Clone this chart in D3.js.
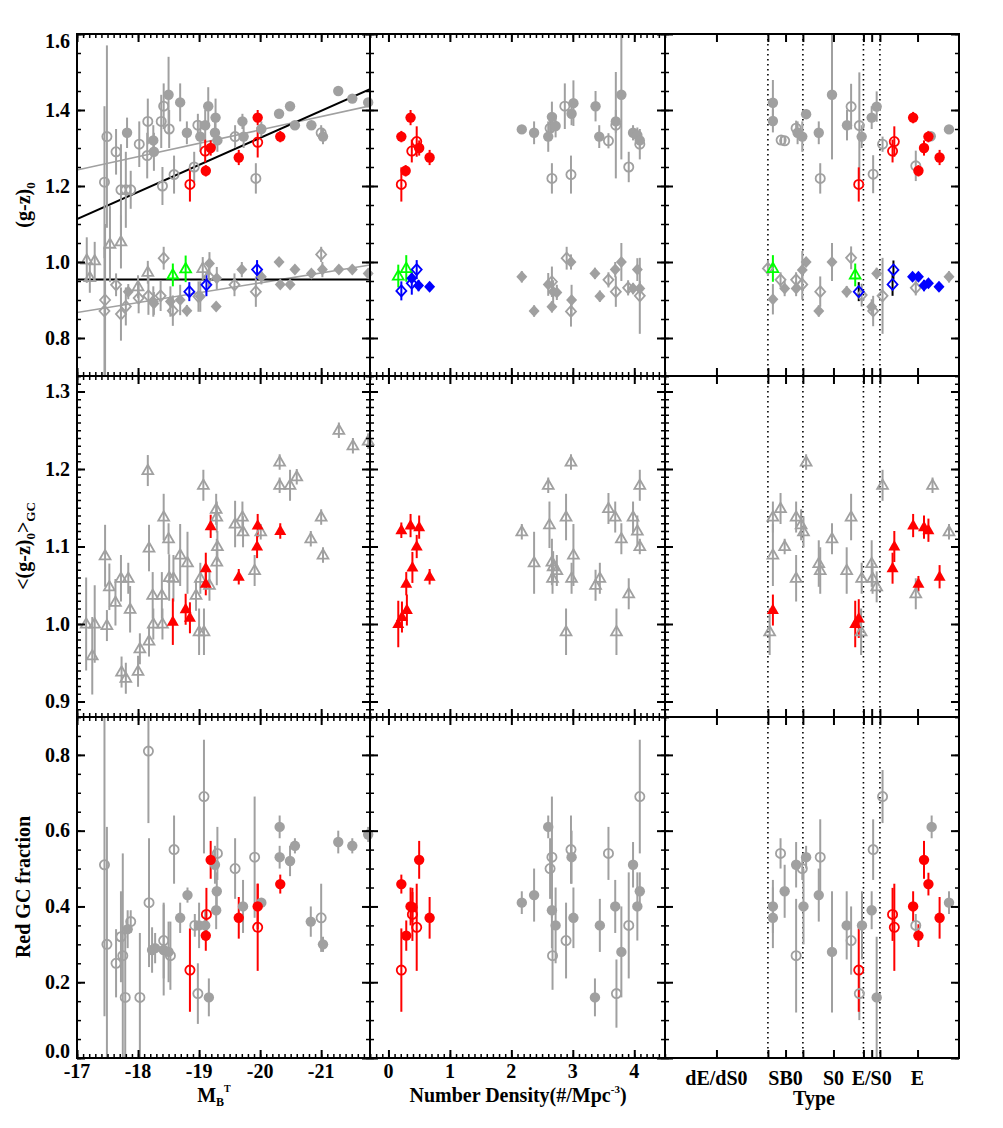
<!DOCTYPE html>
<html>
<head>
<meta charset="utf-8">
<script src="https://cdn.jsdelivr.net/npm/d3@7"></script>
<style>
body { margin: 0; background: #fff; }
text { font-family: "Liberation Serif", "Times New Roman", serif; font-weight: bold; }
</style>
</head>
<body>
<div id="chart"></div>
<script>
var GRAY = "#a0a0a0";

// ---- axes ----
var magDomain = [-17, -21.8];
var magMajor = [-17, -18, -19, -20, -21];
var denDomain = [-0.3, 4.5];
var denMajor = [0, 1, 2, 3, 4];
var typeDomain = [0, 10];
var typeTicks = [1.75, 3.5, 4.1, 4.69, 5.73, 6.75, 7.03, 7.31, 8.59];
var typeNames = ["dE/dS0", "SB0", "S0", "E/S0", "E"];
var typeNamePos = [1.75, 4.1, 5.73, 7.03, 8.59];
var typeBounds = [3.5, 4.69, 6.75, 7.31];

var peakDomain = [0.7, 1.6];
var peakMajor = [0.8, 1.0, 1.2, 1.4, 1.6];
var meanDomain = [0.88, 1.32];
var meanMajor = [0.9, 1.0, 1.1, 1.2, 1.3];
var fracDomain = [0, 0.9];
var fracMajor = [0, 0.2, 0.4, 0.6, 0.8];

// ---- top row: peak colours (x, g-z, err) ----
var rpMagGray = [[-17.82,1.34,0.04],[-18.25,1.32,0.04],[-18.26,1.29,0.05],[-18.5,1.44,0.1],[-18.69,1.42,0.05],[-18.8,1.34,0.03],[-19.02,1.33,0.04],[-19.1,1.36,0.04],[-19.15,1.41,0.05],[-19.27,1.38,0.05],[-19.26,1.34,0.04],[-19.3,1.32,0.03],[-19.71,1.37,0.02],[-19.73,1.33,0.03],[-20.02,1.35,0.02],[-20.31,1.39,0.01],[-20.49,1.41,0.01],[-20.57,1.36,0.01],[-20.84,1.36,0.01],[-21.03,1.33,0.02],[-21.28,1.45,0.01],[-21.51,1.43,0.01],[-21.77,1.42,0.01]];
var rpMagGrayOpen = [[-17.49,1.33,0.24],[-17.45,1.21,0.2],[-17.64,1.29,0.06],[-17.72,1.19,0.12],[-17.8,1.19,0.1],[-17.88,1.19,0.05],[-18.02,1.31,0.06],[-18.16,1.37,0.06],[-18.15,1.28,0.06],[-18.4,1.2,0.05],[-18.42,1.41,0.06],[-18.38,1.37,0.07],[-18.51,1.35,0.05],[-18.59,1.23,0.05],[-18.92,1.25,0.04],[-18.98,1.36,0.03],[-19.59,1.33,0.03],[-19.93,1.22,0.04],[-21.0,1.34,0.02]];
var rpMagRed = [[-19.11,1.24,0.015],[-19.19,1.30,0.02],[-19.65,1.275,0.02],[-19.96,1.38,0.02],[-20.33,1.33,0.015]];
var rpMagRedOpen = [[-18.85,1.204,0.045],[-19.1,1.292,0.03],[-19.96,1.315,0.04]];
var bpMagGray = [[-17.84,0.922,0.02],[-18.25,0.896,0.04],[-18.26,0.891,0.03],[-18.53,0.896,0.04],[-18.69,0.9,0.04],[-18.8,0.872,0.015],[-19.02,0.909,0.04],[-19.17,0.996,0.03],[-19.29,0.957,0.03],[-19.28,0.883,0.01],[-19.7,0.98,0.02],[-20.02,0.961,0.02],[-20.31,1.0,0.01],[-20.33,0.941,0.01],[-20.49,0.941,0.01],[-20.57,0.98,0.01],[-20.84,0.97,0.01],[-21.02,0.98,0.02],[-21.29,0.98,0.01],[-21.51,0.98,0.01],[-21.77,0.97,0.01]];
var bpMagGrayOpen = [[-17.46,0.90,0.2],[-17.45,0.871,0.17],[-17.64,0.94,0.03],[-17.72,0.863,0.07],[-17.8,0.883,0.05],[-18.01,0.905,0.04],[-18.17,0.911,0.05],[-18.42,1.01,0.03],[-18.37,0.911,0.04],[-18.57,0.872,0.04],[-18.99,0.909,0.04],[-19.16,0.961,0.03],[-19.58,0.94,0.03],[-19.93,0.922,0.04],[-21.0,1.02,0.02]];
var uniMagGray = [[-17.16,1.005,0.06],[-17.29,1.003,0.05],[-17.21,0.959,0.04],[-17.54,1.047,0.1],[-17.72,1.053,0.07],[-18.16,0.973,0.03],[-18.0,0.935,0.03],[-19.06,0.983,0.03]];
var uniMagGreen = [[-18.57,0.966,0.03],[-18.78,0.982,0.035]];
var bpMagBlueOpen = [[-18.84,0.922,0.025],[-19.12,0.94,0.03],[-19.95,0.98,0.025]];
// fits: [x1, y1, x2, y2]
var fitBlack = [[-17, 1.113, -21.8, 1.455], [-17, 0.954, -21.8, 0.954]];
var fitGray = [[-17, 1.242, -21.8, 1.411], [-17, 0.867, -21.8, 0.992]];

var rpDenGray = [[2.17,1.349,0.01],[2.37,1.34,0.03],[2.66,1.382,0.04],[2.72,1.358,0.03],[2.6,1.33,0.04],[2.98,1.39,0.03],[3.01,1.418,0.06],[3.37,1.41,0.04],[3.43,1.33,0.03],[3.7,1.37,0.03],[3.79,1.44,0.17],[3.98,1.34,0.02],[4.05,1.334,0.02],[4.09,1.32,0.02]];
var rpDenGrayOpen = [[2.87,1.41,0.06],[2.63,1.352,0.03],[3.58,1.319,0.02],[3.7,1.36,0.14],[2.66,1.22,0.04],[2.97,1.23,0.05],[3.91,1.25,0.04],[4.09,1.31,0.04]];
var rpDenRed = [[0.21,1.33,0.015],[0.36,1.38,0.02],[0.28,1.24,0.015],[0.5,1.30,0.02],[0.67,1.275,0.02]];
var rpDenRedOpen = [[0.21,1.204,0.045],[0.38,1.292,0.03],[0.46,1.317,0.04]];
var bpDenGray = [[2.17,0.961,0.015],[2.37,0.871,0.015],[2.66,0.882,0.015],[2.6,0.941,0.03],[2.68,0.922,0.03],[2.74,0.92,0.02],[2.98,0.9,0.04],[2.97,1.0,0.02],[3.36,0.97,0.015],[3.44,0.91,0.015],[3.69,0.98,0.02],[3.79,1.0,0.05],[3.98,0.93,0.015],[4.05,0.98,0.03],[4.09,0.93,0.02]];
var bpDenGrayOpen = [[2.66,0.948,0.04],[2.9,1.01,0.03],[2.97,0.87,0.04],[3.58,0.953,0.02],[3.7,0.922,0.04],[3.9,0.932,0.02],[4.09,0.911,0.1]];
var uniDenGreen = [[0.16,0.963,0.03],[0.29,0.983,0.035]];
var bpDenBlue = [[0.38,0.957,0.01],[0.49,0.938,0.015],[0.67,0.935,0.01]];
var bpDenBlueOpen = [[0.21,0.924,0.025],[0.38,0.944,0.03],[0.46,0.98,0.025]];

var rpTypeGray = [[3.67,1.419,0.06],[3.67,1.371,0.03],[4.8,1.389,0.01],[4.67,1.33,0.04],[4.51,1.34,0.03],[5.23,1.34,0.03],[5.68,1.44,0.17],[6.19,1.36,0.04],[6.69,1.33,0.03],[7.03,1.38,0.03],[7.2,1.409,0.04],[9.66,1.349,0.01],[9.04,1.331,0.01]];
var rpTypeGrayOpen = [[3.95,1.321,0.01],[4.07,1.319,0.01],[4.46,1.352,0.02],[5.28,1.22,0.04],[6.33,1.409,0.06],[6.61,1.359,0.14],[7.08,1.231,0.05],[7.4,1.31,0.02],[8.53,1.253,0.04]];
var rpTypeRed = [[8.44,1.38,0.015],[8.96,1.33,0.015],[8.81,1.30,0.02],[9.34,1.275,0.02],[8.62,1.24,0.015]];
var rpTypeRedOpen = [[6.59,1.204,0.045],[7.8,1.317,0.04],[7.74,1.292,0.03]];
var bpTypeGray = [[3.67,0.902,0.04],[4.07,0.93,0.02],[4.46,0.93,0.02],[4.67,0.979,0.05],[4.8,1.0,0.01],[5.23,0.871,0.015],[5.68,1.0,0.05],[6.18,0.922,0.015],[7.2,0.97,0.015],[7.03,0.882,0.02],[9.66,0.961,0.015]];
var bpTypeGrayOpen = [[3.5,0.983,0.02],[3.93,0.953,0.02],[4.46,0.953,0.02],[4.67,0.941,0.04],[5.28,0.922,0.04],[6.33,1.011,0.03],[6.69,0.913,0.03],[7.08,0.871,0.04],[7.4,0.911,0.1],[8.53,0.932,0.02]];
var uniTypeGreen = [[3.67,0.983,0.035],[6.47,0.966,0.03]];
var bpTypeBlue = [[8.42,0.961,0.01],[8.62,0.961,0.01],[8.81,0.938,0.015],[8.96,0.944,0.01],[9.32,0.935,0.01]];
var bpTypeBlueOpen = [[6.59,0.922,0.025],[7.77,0.979,0.025],[7.74,0.941,0.03]];

// ---- middle row: mean GC colour ----
var meanMagGray = [[-17.15,1.0,0.06],[-17.25,0.959,0.05],[-17.29,1.0,0.05],[-17.46,1.088,0.04],[-17.49,0.998,0.02],[-17.53,1.048,0.03],[-17.63,1.028,0.03],[-17.72,1.059,0.03],[-17.84,1.059,0.02],[-17.73,0.938,0.02],[-17.8,0.93,0.02],[-17.87,1.019,0.03],[-18.0,0.939,0.02],[-18.03,0.968,0.02],[-18.16,1.198,0.02],[-18.18,1.098,0.03],[-18.18,0.978,0.02],[-18.24,1.037,0.03],[-18.25,1.0,0.02],[-18.39,1.037,0.03],[-18.4,1.0,0.02],[-18.42,1.138,0.03],[-18.5,1.11,0.02],[-18.51,1.06,0.03],[-18.58,1.059,0.03],[-18.69,1.089,0.04],[-18.81,1.079,0.04],[-18.95,1.037,0.02],[-19.0,0.99,0.03],[-19.08,0.99,0.03],[-19.02,1.059,0.02],[-19.07,1.179,0.02],[-19.17,1.05,0.02],[-19.28,1.148,0.02],[-19.29,1.138,0.02],[-19.3,1.1,0.02],[-19.29,1.08,0.03],[-19.59,1.129,0.03],[-19.71,1.138,0.02],[-19.72,1.119,0.02],[-19.91,1.069,0.02],[-20.01,1.119,0.01],[-20.32,1.209,0.01],[-20.32,1.179,0.01],[-20.49,1.179,0.02],[-20.6,1.19,0.01],[-20.83,1.11,0.01],[-21.0,1.138,0.01],[-21.03,1.089,0.01],[-21.29,1.25,0.01],[-21.52,1.23,0.01],[-21.77,1.236,0.01]];
var meanMagRed = [[-18.57,1.003,0.03],[-18.78,1.019,0.02],[-18.85,1.008,0.02],[-19.11,1.072,0.02],[-19.11,1.052,0.015],[-19.19,1.126,0.015],[-19.65,1.061,0.01],[-19.96,1.127,0.015],[-19.95,1.1,0.015],[-20.33,1.12,0.01]];
var meanDenGray = [[2.17,1.119,0.01],[2.37,1.079,0.04],[2.6,1.179,0.01],[2.62,1.128,0.03],[2.66,1.08,0.03],[2.68,1.074,0.02],[2.74,1.069,0.02],[2.67,1.059,0.02],[2.89,1.138,0.03],[2.97,1.209,0.01],[3.01,1.089,0.04],[2.98,1.059,0.02],[2.89,0.99,0.03],[3.37,1.05,0.02],[3.44,1.059,0.02],[3.58,1.149,0.02],[3.69,1.138,0.02],[3.79,1.11,0.02],[3.71,0.99,0.03],[3.91,1.039,0.02],[3.98,1.138,0.02],[4.05,1.12,0.02],[4.09,1.1,0.01],[4.09,1.179,0.02]];
var meanDenRed = [[0.21,1.121,0.01],[0.36,1.127,0.015],[0.5,1.125,0.015],[0.46,1.1,0.015],[0.39,1.073,0.02],[0.67,1.061,0.01],[0.29,1.052,0.015],[0.3,1.018,0.02],[0.22,1.009,0.02],[0.16,1.0,0.03]];
var meanTypeGray = [[3.67,1.138,0.02],[3.93,1.149,0.02],[3.67,1.089,0.04],[4.07,1.1,0.01],[3.56,0.99,0.03],[4.46,1.138,0.02],[4.63,1.128,0.02],[4.71,1.119,0.02],[4.8,1.209,0.01],[4.46,1.059,0.03],[5.23,1.078,0.03],[5.28,1.069,0.03],[5.68,1.11,0.02],[6.18,1.069,0.03],[6.33,1.138,0.03],[6.69,1.059,0.02],[6.67,0.99,0.03],[7.03,1.078,0.03],[7.06,1.059,0.02],[7.2,1.048,0.02],[7.4,1.179,0.02],[8.53,1.039,0.02],[9.1,1.179,0.01],[9.66,1.119,0.01]];
var meanTypeRed = [[3.67,1.018,0.02],[6.47,1.0,0.03],[6.59,1.007,0.025],[7.8,1.1,0.02],[7.74,1.072,0.02],[8.44,1.127,0.015],[8.81,1.125,0.015],[8.96,1.121,0.015],[8.62,1.052,0.01],[9.34,1.061,0.015]];

// ---- bottom row: red GC fraction ----
var fracMagGray = [[-17.83,0.34,0.05],[-18.23,0.285,0.06],[-18.28,0.29,0.04],[-18.42,0.285,0.12],[-18.5,0.28,0.08],[-18.69,0.37,0.04],[-18.81,0.43,0.02],[-19.0,0.35,0.06],[-19.1,0.35,0.04],[-19.16,0.16,0.05],[-19.26,0.51,0.05],[-19.29,0.44,0.05],[-19.28,0.39,0.05],[-19.72,0.40,0.07],[-20.02,0.41,0.01],[-20.32,0.61,0.03],[-20.32,0.53,0.03],[-20.49,0.52,0.04],[-20.57,0.56,0.02],[-20.83,0.36,0.04],[-21.03,0.30,0.02],[-21.28,0.57,0.03],[-21.51,0.56,0.02],[-21.77,0.59,0.02]];
var fracMagGrayOpen = [[-17.45,0.51,0.4],[-17.49,0.30,0.31],[-17.64,0.25,0.09],[-17.72,0.32,0.12],[-17.75,0.27,0.27],[-17.79,0.16,0.18],[-17.88,0.36,0.03],[-18.03,0.16,0.17],[-18.17,0.81,0.19],[-18.18,0.41,0.17],[-18.42,0.31,0.1],[-18.53,0.27,0.09],[-18.59,0.55,0.09],[-18.93,0.35,0.03],[-18.98,0.17,0.08],[-19.08,0.69,0.15],[-19.3,0.54,0.07],[-19.59,0.50,0.08],[-19.91,0.53,0.16],[-21.0,0.37,0.09]];
var fracMagRed = [[-19.19,0.523,0.05],[-19.11,0.323,0.04],[-19.65,0.37,0.055],[-19.96,0.40,0.06],[-20.33,0.459,0.025]];
var fracMagRedOpen = [[-18.85,0.232,0.11],[-19.12,0.379,0.07],[-19.96,0.345,0.115]];
var fracDenGray = [[2.17,0.41,0.03],[2.37,0.43,0.07],[2.6,0.61,0.03],[2.66,0.39,0.1],[2.72,0.35,0.1],[2.98,0.53,0.07],[3.01,0.37,0.08],[3.36,0.16,0.05],[3.44,0.35,0.07],[3.69,0.40,0.07],[3.79,0.28,0.12],[3.98,0.51,0.06],[4.05,0.40,0.09],[4.09,0.44,0.05]];
var fracDenGrayOpen = [[2.66,0.53,0.16],[2.63,0.50,0.08],[2.67,0.27,0.09],[2.97,0.55,0.09],[2.89,0.31,0.1],[3.58,0.54,0.07],[3.71,0.17,0.09],[3.91,0.35,0.14],[4.09,0.69,0.15]];
var fracDenRed = [[0.21,0.459,0.025],[0.5,0.523,0.05],[0.36,0.40,0.05],[0.39,0.398,0.04],[0.29,0.323,0.04],[0.67,0.37,0.055]];
var fracDenRedOpen = [[0.21,0.232,0.11],[0.39,0.379,0.07],[0.46,0.345,0.115]];
var fracTypeGray = [[3.67,0.40,0.07],[3.67,0.37,0.08],[4.07,0.44,0.07],[4.46,0.51,0.06],[4.8,0.53,0.03],[4.71,0.40,0.1],[5.23,0.43,0.07],[5.68,0.28,0.16],[6.18,0.35,0.09],[6.7,0.35,0.09],[7.03,0.39,0.05],[7.2,0.16,0.16],[9.07,0.61,0.03],[9.66,0.41,0.03]];
var fracTypeGrayOpen = [[3.93,0.54,0.04],[4.46,0.27,0.15],[4.67,0.50,0.03],[5.28,0.53,0.1],[6.33,0.31,0.09],[6.61,0.17,0.07],[7.08,0.55,0.08],[7.4,0.69,0.07],[8.53,0.35,0.03]];
var fracTypeRed = [[8.44,0.40,0.04],[8.62,0.323,0.03],[8.81,0.523,0.05],[8.96,0.459,0.03],[9.34,0.37,0.055]];
var fracTypeRedOpen = [[6.59,0.232,0.11],[7.74,0.379,0.07],[7.8,0.345,0.115]];

// marker styles
var styles = {
    grayDot:       { shape: "circle",   color: GRAY,   filled: true },
    grayRing:      { shape: "circle",   color: GRAY,   filled: false },
    redDot:        { shape: "circle",   color: "red",  filled: true },
    redRing:       { shape: "circle",   color: "red",  filled: false },
    grayDia:       { shape: "diamond",  color: GRAY,   filled: true },
    grayDiaOpen:   { shape: "diamond",  color: GRAY,   filled: false },
    grayTri:       { shape: "triangle", color: GRAY,   filled: false },
    greenTri:      { shape: "triangle", color: "#00ff00", filled: false },
    blueDia:       { shape: "diamond",  color: "blue", filled: true },
    blueDiaOpen:   { shape: "diamond",  color: "blue", filled: false },
    blueDiaOpenK:  { shape: "diamond",  color: "blue", filled: false, err: "black" },
    redTri:        { shape: "triangle", color: "red",  filled: true }
};

var shapes = {
    circle: { filled: "M5.2,0A5.2,5.2 0 1,1 -5.2,0A5.2,5.2 0 1,1 5.2,0Z",
              open: "M4.6,0A4.6,4.6 0 1,1 -4.6,0A4.6,4.6 0 1,1 4.6,0Z" },
    diamond: { filled: "M0,-6L5.5,0L0,6L-5.5,0Z", open: "M0,-5.5L5,0L0,5.5L-5,0Z" },
    triangle: { filled: "M0,-6.5L6,4L-6,4Z", open: "M0,-5.8L5.4,3.6L-5.4,3.6Z" }
};

var colX = [[77, 370], [370, 665], [665, 959]];
var rowY = [[34, 376], [376, 717], [717, 1058]];

var svg = d3.select("#chart").append("svg")
    .attr("width", 1003)
    .attr("height", 1128);

var xScales = [
    d3.scaleLinear().domain(magDomain).range(colX[0]),
    d3.scaleLinear().domain(denDomain).range(colX[1]),
    d3.scaleLinear().domain(typeDomain).range(colX[2])
];
var yScales = [
    d3.scaleLinear().domain(peakDomain).range([rowY[0][1], rowY[0][0]]),
    d3.scaleLinear().domain(meanDomain).range([rowY[1][1], rowY[1][0]]),
    d3.scaleLinear().domain(fracDomain).range([rowY[2][1], rowY[2][0]])
];

function steps(a, b, s) {
    var n = Math.round(Math.abs(b - a) / Math.abs(s));
    return d3.range(n + 1).map(i => +(a + i * s).toFixed(4));
}
var xMinor = [steps(-17, -21.8, -0.1), steps(-0.3, 4.5, 0.1), []];
var xMajor = [magMajor, denMajor, typeTicks];
var yMinor = [steps(0.7, 1.6, 0.05), steps(0.88, 1.32, 0.01), steps(0, 0.9, 0.05)];
var yMajor = [peakMajor, meanMajor, fracMajor];

var panels = [
    [[rpMagGrayOpen, "grayRing"], [rpMagGray, "grayDot"], [bpMagGrayOpen, "grayDiaOpen"], [bpMagGray, "grayDia"], [uniMagGray, "grayTri"],
     [rpMagRedOpen, "redRing"], [rpMagRed, "redDot"], [uniMagGreen, "greenTri"], [bpMagBlueOpen, "blueDiaOpen"]],
    [[rpDenGrayOpen, "grayRing"], [rpDenGray, "grayDot"], [bpDenGrayOpen, "grayDiaOpen"], [bpDenGray, "grayDia"],
     [rpDenRedOpen, "redRing"], [rpDenRed, "redDot"], [uniDenGreen, "greenTri"], [bpDenBlue, "blueDia"], [bpDenBlueOpen, "blueDiaOpen"]],
    [[rpTypeGrayOpen, "grayRing"], [rpTypeGray, "grayDot"], [bpTypeGrayOpen, "grayDiaOpen"], [bpTypeGray, "grayDia"],
     [rpTypeRedOpen, "redRing"], [rpTypeRed, "redDot"], [uniTypeGreen, "greenTri"], [bpTypeBlue, "blueDia"], [bpTypeBlueOpen, "blueDiaOpenK"]],
    [[meanMagGray, "grayTri"], [meanMagRed, "redTri"]],
    [[meanDenGray, "grayTri"], [meanDenRed, "redTri"]],
    [[meanTypeGray, "grayTri"], [meanTypeRed, "redTri"]],
    [[fracMagGrayOpen, "grayRing"], [fracMagGray, "grayDot"], [fracMagRedOpen, "redRing"], [fracMagRed, "redDot"]],
    [[fracDenGrayOpen, "grayRing"], [fracDenGray, "grayDot"], [fracDenRedOpen, "redRing"], [fracDenRed, "redDot"]],
    [[fracTypeGrayOpen, "grayRing"], [fracTypeGray, "grayDot"], [fracTypeRedOpen, "redRing"], [fracTypeRed, "redDot"]]
];

var markLayer = svg.append("g");
var axisLayer = svg.append("g");

panels.forEach(function(layers, i) {
    var ci = i % 3, ri = Math.floor(i / 3);
    var x = xScales[ci], y = yScales[ri];
    var x0 = colX[ci][0], x1 = colX[ci][1], y0 = rowY[ri][0], y1 = rowY[ri][1];

    var clipId = "clip" + i;
    svg.append("clipPath").attr("id", clipId)
        .append("rect").attr("x", x0).attr("y", y0).attr("width", x1 - x0).attr("height", y1 - y0);

    var clipped = markLayer.append("g").attr("clip-path", "url(#" + clipId + ")");

    // type boundaries
    if (ci == 2) {
        clipped.selectAll(null).data(typeBounds).enter().append("line")
            .attr("x1", d => x(d)).attr("x2", d => x(d))
            .attr("y1", y0).attr("y2", y1)
            .attr("stroke", "black").attr("stroke-width", 1.6)
            .attr("stroke-dasharray", "1.6,3.4");
    }

    if (i == 0) {
        clipped.selectAll(null).data(fitGray).enter().append("line")
            .attr("x1", d => x(d[0])).attr("y1", d => y(d[1]))
            .attr("x2", d => x(d[2])).attr("y2", d => y(d[3]))
            .attr("stroke", GRAY).attr("stroke-width", 1.6);
        clipped.selectAll(null).data(fitBlack).enter().append("line")
            .attr("x1", d => x(d[0])).attr("y1", d => y(d[1]))
            .attr("x2", d => x(d[2])).attr("y2", d => y(d[3]))
            .attr("stroke", "black").attr("stroke-width", 2);
    }

    layers.forEach(function(layer) {
        var data = layer[0], s = styles[layer[1]];
        var g = markLayer.append("g");
        clipped.append("g").selectAll("line").data(data).enter().append("line")
            .attr("x1", d => x(d[0])).attr("x2", d => x(d[0]))
            .attr("y1", d => y(d[1] - d[2])).attr("y2", d => y(d[1] + d[2]))
            .attr("stroke", s.err || s.color).attr("stroke-width", 2);
        g.selectAll("path").data(data).enter().append("path")
            .attr("d", s.filled ? shapes[s.shape].filled : shapes[s.shape].open)
            .attr("transform", d => "translate(" + x(d[0]) + "," + y(d[1]) + ")")
            .attr("fill", s.filled ? s.color : "none")
            .attr("stroke", s.filled ? "none" : s.color)
            .attr("stroke-width", 1.8);
    });

    // ticks, drawn inward on all four sides
    var ax = axisLayer.append("g");
    function drawAxis(gen, tx, ty, vals, size, w) {
        var g = ax.append("g").attr("transform", "translate(" + tx + "," + ty + ")")
            .call(gen.tickValues(vals).tickSizeInner(-size).tickSizeOuter(0).tickFormat(""));
        g.select(".domain").remove();
        g.selectAll("line").attr("stroke-width", w);
    }
    drawAxis(d3.axisBottom(x), 0, y1, xMinor[ci], 4, 1.5);
    drawAxis(d3.axisTop(x), 0, y0, xMinor[ci], 4, 1.5);
    drawAxis(d3.axisBottom(x), 0, y1, xMajor[ci], 8, 2);
    drawAxis(d3.axisTop(x), 0, y0, xMajor[ci], 8, 2);
    drawAxis(d3.axisLeft(y), x0, 0, yMinor[ri], 4, 1.5);
    drawAxis(d3.axisRight(y), x1, 0, yMinor[ri], 4, 1.5);
    drawAxis(d3.axisLeft(y), x0, 0, yMajor[ri], 8, 2);
    drawAxis(d3.axisRight(y), x1, 0, yMajor[ri], 8, 2);

    ax.append("rect").attr("x", x0).attr("y", y0)
        .attr("width", x1 - x0).attr("height", y1 - y0)
        .attr("fill", "none").attr("stroke", "black").attr("stroke-width", 2);

    // y tick labels, kept inside the panel's vertical extent
    if (ci == 0) {
        ax.selectAll(null).data(yMajor[ri]).enter().append("text")
            .attr("x", x0 - 7)
            .attr("y", d => Math.min(Math.max(y(d), y0 + 7), y1 - 6.5))
            .attr("dy", "0.34em")
            .attr("text-anchor", "end")
            .attr("font-size", 20)
            .text(d => d3.format(".1f")(d));
    }
});

// x tick labels
var fs = 20;
svg.append("g").selectAll("text").data(magMajor).enter().append("text")
    .attr("x", d => xScales[0](d)).attr("y", 1078)
    .attr("text-anchor", "middle").attr("font-size", fs).text(d => String(d));
svg.append("g").selectAll("text").data(denMajor).enter().append("text")
    .attr("x", d => xScales[1](d)).attr("y", 1078)
    .attr("text-anchor", "middle").attr("font-size", fs).text(d => String(d));
svg.append("g").selectAll("text").data(typeNames).enter().append("text")
    .attr("x", (d, i) => xScales[2](typeNamePos[i])).attr("y", 1085)
    .attr("text-anchor", "middle").attr("font-size", fs).text(d => d);

// axis titles
var t1 = svg.append("text").attr("x", 214).attr("y", 1102)
    .attr("text-anchor", "middle").attr("font-size", fs);
t1.append("tspan").text("M");
t1.append("tspan").attr("font-size", 12).attr("dy", 4).text("B");
t1.append("tspan").attr("font-size", 10).attr("dy", -14).text("T");

var t2 = svg.append("text").attr("x", 518).attr("y", 1102)
    .attr("text-anchor", "middle").attr("font-size", fs);
t2.append("tspan").text("Number Density(#/Mpc");
t2.append("tspan").attr("font-size", 11).attr("dy", -9).text("-3");
t2.append("tspan").attr("dy", 9).text(")");

svg.append("text").attr("x", 814).attr("y", 1105)
    .attr("text-anchor", "middle").attr("font-size", fs).text("Type");

function yTitle(cy) {
    return svg.append("text")
        .attr("transform", "translate(30," + cy + ") rotate(-90)")
        .attr("text-anchor", "middle").attr("font-size", fs);
}
var ya = yTitle(205);
ya.append("tspan").text("(g-z)");
ya.append("tspan").attr("font-size", 13).attr("dy", 5).text("0");

var yb = yTitle(546);
yb.append("tspan").text("<(g-z)");
yb.append("tspan").attr("font-size", 13).attr("dy", 5).text("0");
yb.append("tspan").attr("dy", -5).text(">");
yb.append("tspan").attr("font-size", 13).attr("dy", 5).text("GC");

yTitle(887).text("Red GC fraction");
</script>
</body>
</html>
